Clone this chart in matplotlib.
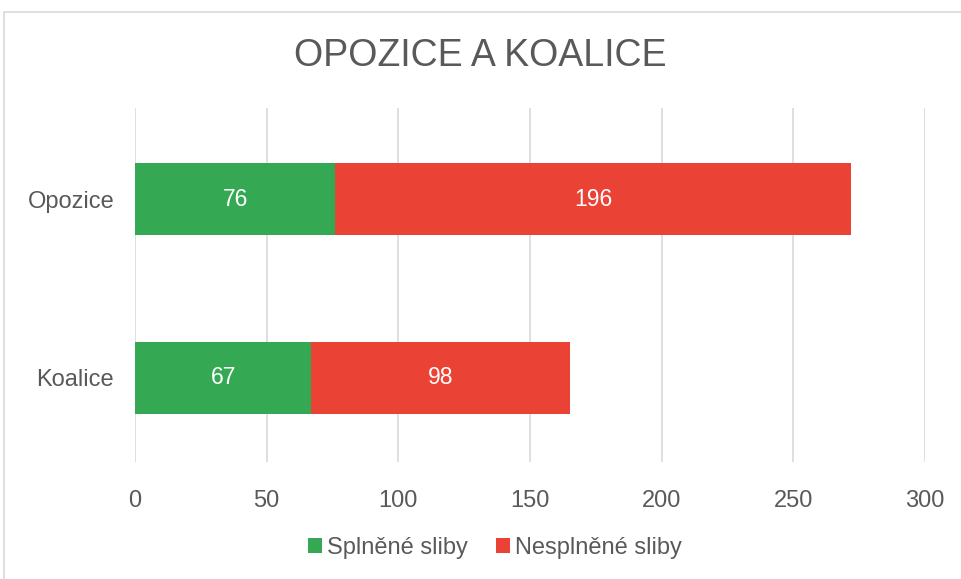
import matplotlib.pyplot as plt
from matplotlib.patches import Rectangle

categories = ["Koalice", "Opozice"]
splnene = [67, 76]
nesplnene = [98, 196]
series_names = ["Splněné sliby", "Nesplněné sliby"]

green = "#34A853"
red = "#EA4335"
gray = "#595959"

plt.rcParams["font.family"] = ["Liberation Sans", "DejaVu Sans"]

fig = plt.figure(figsize=(9.61, 5.79), dpi=100)
fig.patches.append(Rectangle((4 / 961, -0.01), 1.02, 1 - 12 / 579 + 0.01,
                             transform=fig.transFigure, fill=False,
                             edgecolor="#d9d9d9", linewidth=1.2))

ax = fig.add_axes([135 / 961, 1 - 462 / 579, 790 / 961, 354 / 579])

y = list(range(len(categories)))
b1 = ax.barh(y, splnene, height=0.4, color=green, label=series_names[0], zorder=3)
b2 = ax.barh(y, nesplnene, left=splnene, height=0.4, color=red, label=series_names[1], zorder=3)

for bars in (b1, b2):
    ax.bar_label(bars, label_type="center", color="white", fontsize=16.5)

ax.set_xlim(0, 300)
ax.set_ylim(-0.47, 1.51)
ax.set_xticks(range(0, 301, 50))
ax.set_yticks(y)
ax.set_yticklabels(categories)
ax.tick_params(axis="both", length=0, labelsize=17, labelcolor=gray)
ax.tick_params(axis="x", pad=20)
ax.tick_params(axis="y", pad=15)
ax.grid(axis="x", color="#d9d9d9", linewidth=1.2, zorder=0)
for s in ax.spines.values():
    s.set_visible(False)

fig.text(0.5, 1 - 56 / 579, "OPOZICE A KOALICE", ha="center", va="center",
         fontsize=27, color=gray)

fig.legend(loc="center", bbox_to_anchor=(0.515, 1 - 548 / 579), ncol=2, frameon=False,
           fontsize=17, labelcolor=gray, handlelength=0.6, handleheight=0.6,
           handletextpad=0.2, columnspacing=1.2)

fig.savefig("out.png", dpi=100)
